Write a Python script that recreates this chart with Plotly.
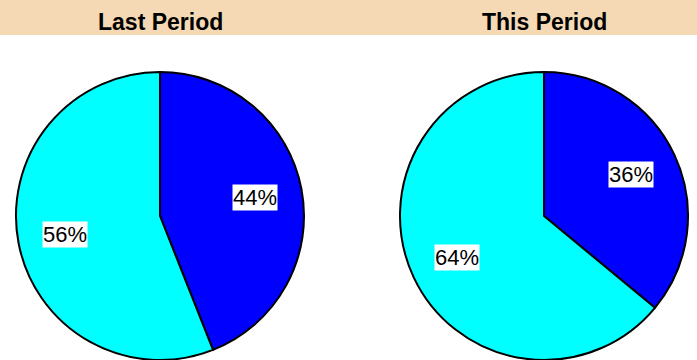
import math
import plotly.graph_objects as go

categories = ["Blue", "Cyan"]
last_period = [44, 56]
this_period = [36, 64]
titles = ["Last Period", "This Period"]
colors = ["#0000FF", "#00FFFF"]

W, H = 697, 360
fig = go.Figure()

domains_x = [(0, 320 / W), (394 / W, 694 / W)]
dom_y = (0, 1 - 72 / H)
centers_px = [160, 544]

annotations = []
for i, vals in enumerate([last_period, this_period]):
    fig.add_trace(go.Pie(
        labels=categories, values=vals, sort=False, direction="clockwise",
        rotation=0, marker=dict(colors=colors, line=dict(color="black", width=2)),
        textinfo="none", hoverinfo="label+percent", showlegend=False,
        domain=dict(x=list(domains_x[i]), y=list(dom_y)),
    ))
    # labels with white boxes at the mid-angle of each slice
    total = sum(vals)
    r = (dom_y[1] - dom_y[0]) * H / 2
    cx = centers_px[i]
    cy = 72 + r
    cum = 0
    for v in vals:
        mid = (cum + v / 2) / total * 2 * math.pi
        cum += v
        px = cx + 0.67 * r * math.sin(mid)
        py = cy - 0.67 * r * math.cos(mid)
        annotations.append(dict(
            x=px / W, y=1 - py / H, xref="paper", yref="paper",
            xanchor="center", yanchor="middle",
            text=f"{round(v / total * 100)}%", showarrow=False,
            bgcolor="white", borderpad=0,
            font=dict(family="Liberation Sans, Arial", size=22, color="black"),
        ))
    annotations.append(dict(
        x=cx / W, y=1 - 22 / H, xref="paper", yref="paper", text=f"<b>{titles[i]}</b>",
        showarrow=False, xanchor="center", yanchor="middle",
        font=dict(family="Liberation Sans, Arial", size=23, color="black"),
    ))

fig.update_layout(
    width=W, height=H, margin=dict(l=0, r=0, t=0, b=0),
    paper_bgcolor="white", plot_bgcolor="white",
    shapes=[dict(type="rect", xref="paper", yref="paper", x0=0, x1=1,
                 y0=1 - 35 / H, y1=1, fillcolor="#F5D8B4", line=dict(width=0), layer="below")],
    annotations=annotations,
)

fig.write_html("out.html")
